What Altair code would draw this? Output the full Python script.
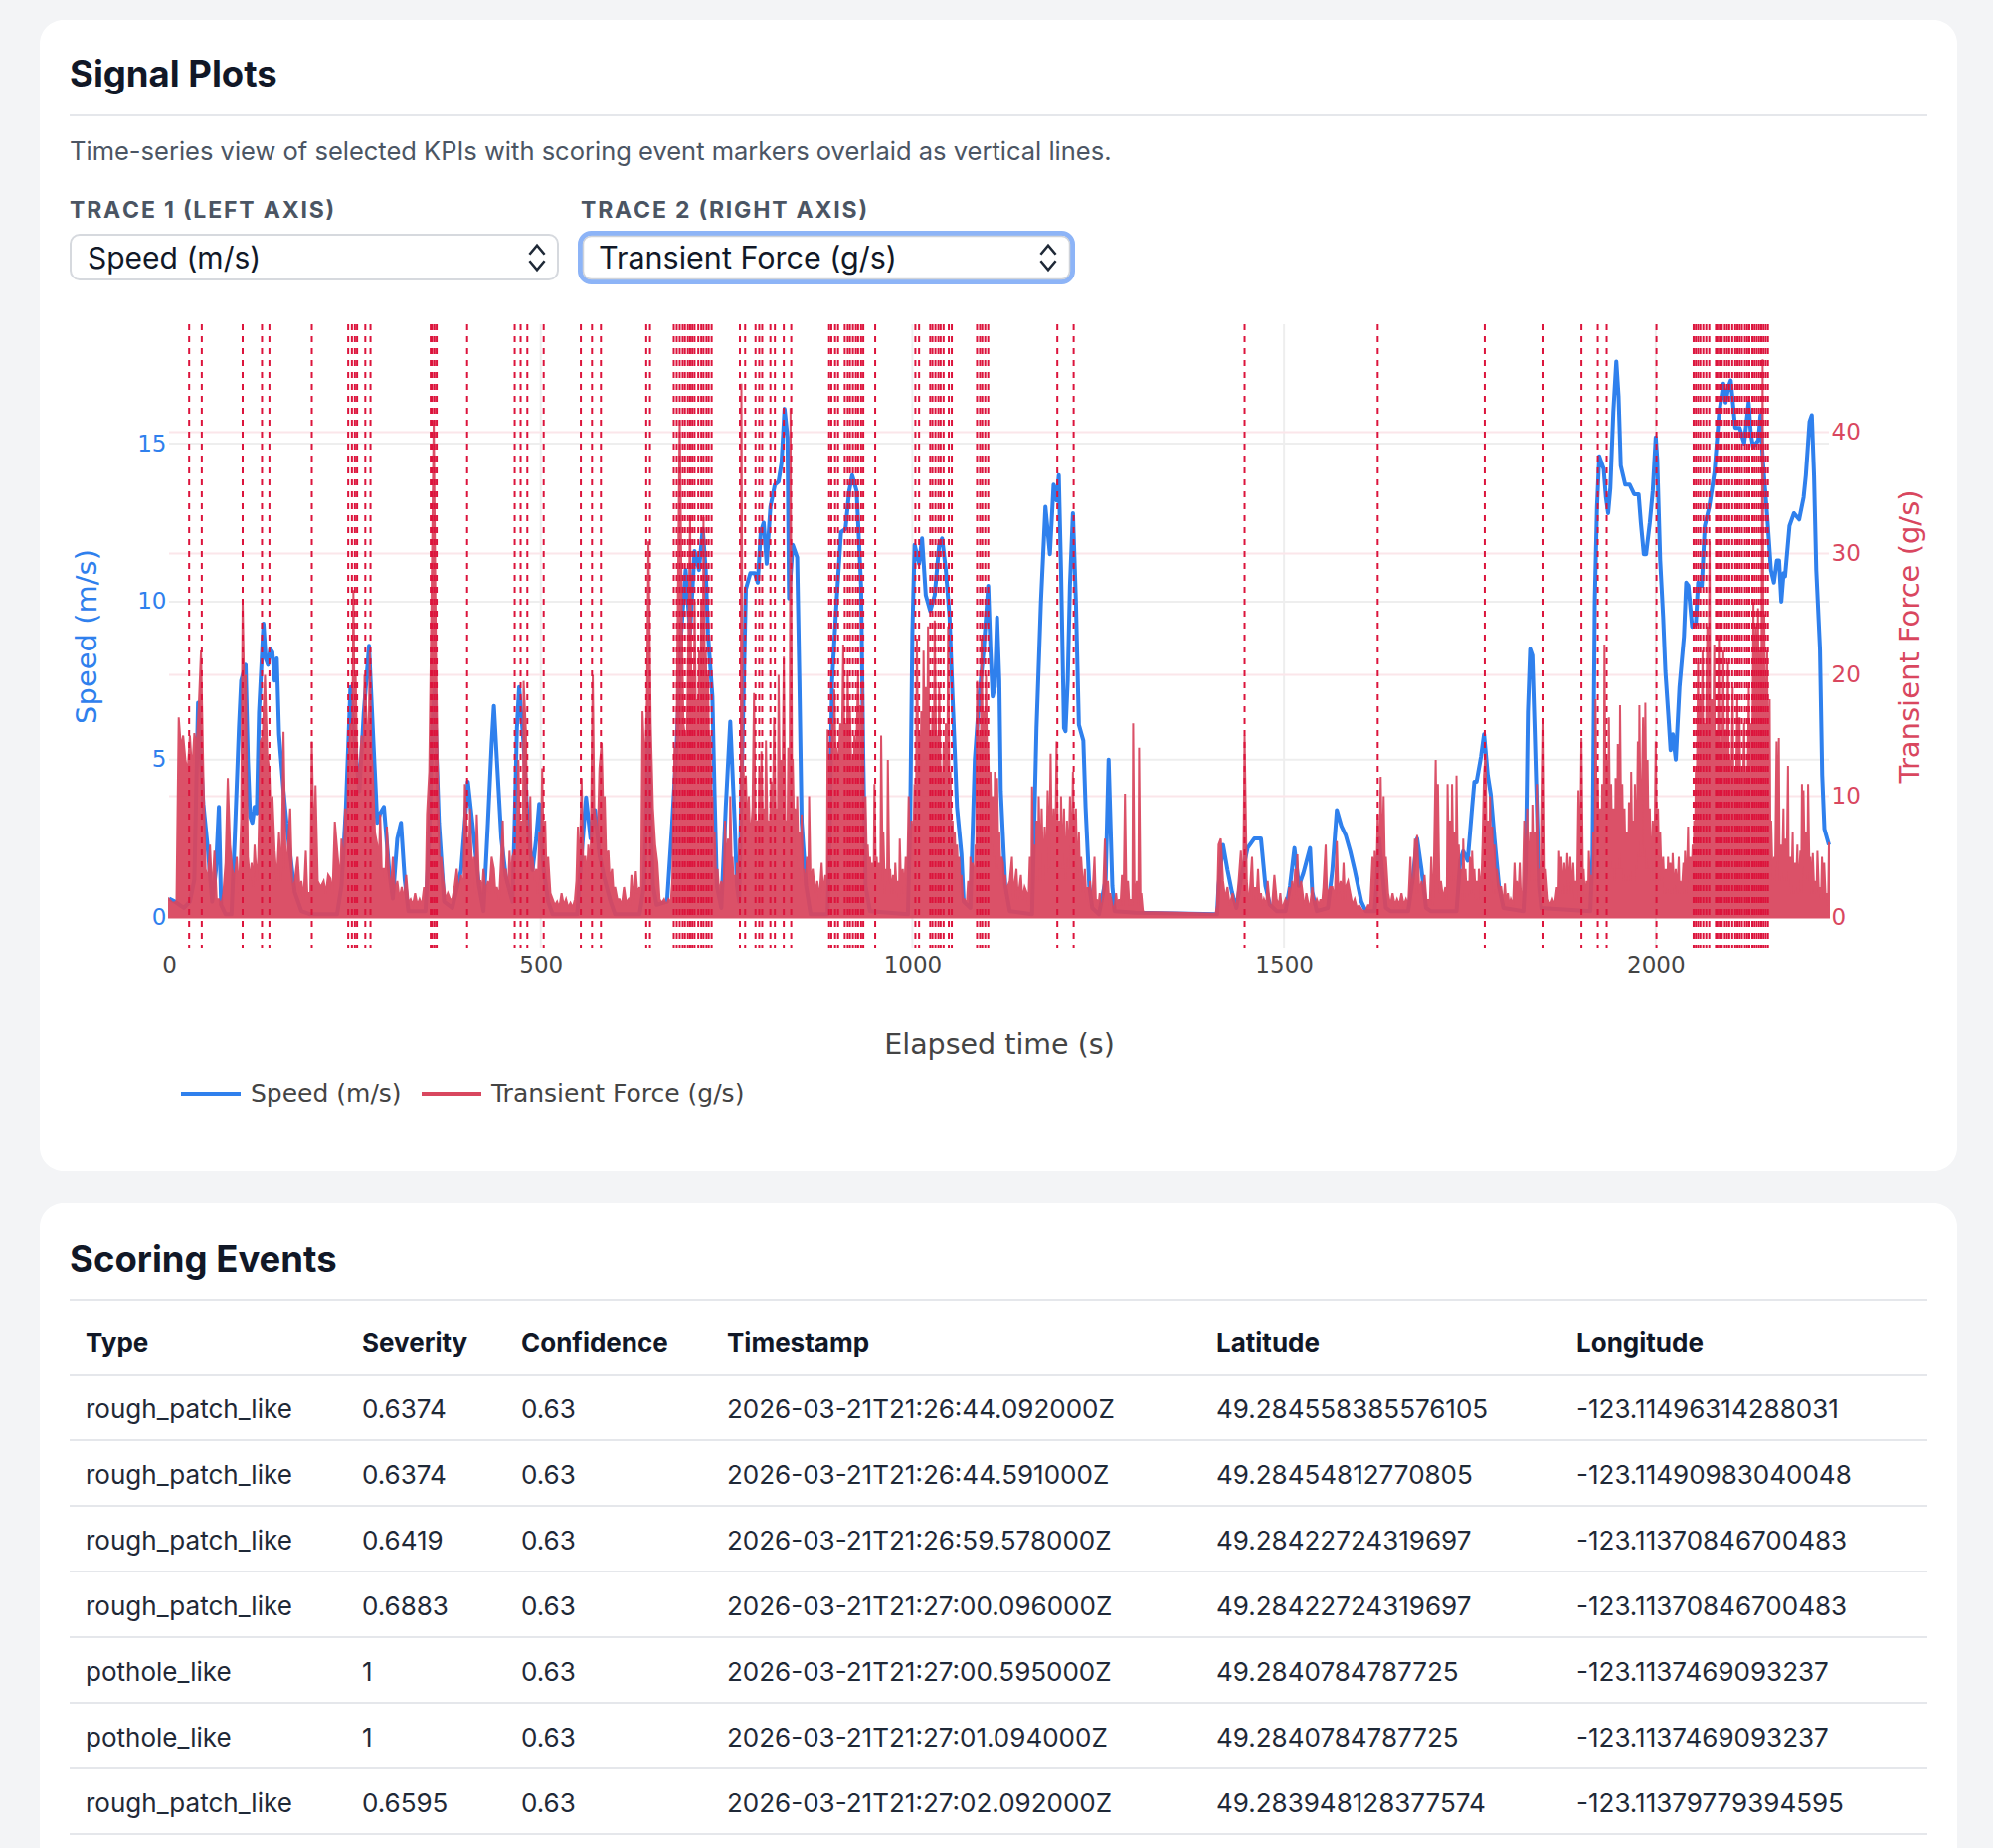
import altair as alt
import pandas as pd

# ---------------------------------------------------------------------------
# Speed trace: (elapsed time s, speed m/s)
# ---------------------------------------------------------------------------
SPEED = [
    (0, 0.6), (8, 0.5), (14, 0.4), (20, 0.3), (28, 0.5), (34, 1.2), (39, 6.8), (43, 5.0), (46, 3.6),
    (52, 2.2), (58, 0.5), (63, 1.5), (67, 3.5), (70, 0.4), (76, 0.1), (84, 0.1), (88, 2.3), (94, 6.0),
    (97, 7.5), (103, 8.0), (106, 5.0), (109, 3.2), (112, 3.0), (115, 3.5), (118, 3.3), (121, 6.5),
    (127, 9.3), (130, 8.2), (133, 8.0), (136, 8.5), (139, 8.4), (142, 7.5), (145, 8.2), (148, 5.8),
    (154, 4.0), (158, 3.0), (163, 2.0), (169, 0.8), (178, 0.2), (190, 0.1), (226, 0.1),
    (232, 1.0), (238, 3.5), (244, 7.3), (250, 5.5), (256, 4.0), (262, 6.5), (269, 8.6), (274, 6.0),
    (280, 3.0), (284, 3.3), (289, 3.5), (296, 1.5), (301, 0.6), (307, 2.5), (312, 3.0), (317, 1.2),
    (322, 0.2), (345, 0.2), (350, 2.5), (354, 6.0), (357, 7.2), (360, 5.0), (363, 3.0), (370, 0.5),
    (381, 0.3), (393, 1.5), (398, 3.0), (402, 4.3), (408, 3.0), (417, 1.0), (423, 0.2), (429, 3.0),
    (434, 5.5), (437, 6.7), (441, 5.0), (447, 2.5), (453, 1.3), (462, 0.5), (465, 3.0), (468, 6.0),
    (471, 7.3), (477, 5.5), (483, 2.8), (489, 1.5), (494, 2.5), (498, 3.6), (504, 1.5), (510, 0.5),
    (516, 0.1), (549, 0.1),
    (555, 2.0), (561, 3.8), (567, 2.5), (573, 3.4), (579, 2.0), (585, 1.3), (594, 0.5), (600, 0.1),
    (633, 0.1), (639, 1.0), (643, 4.0), (645, 6.5), (648, 3.0), (651, 1.0), (656, 0.4), (670, 0.5),
    (677, 3.0), (683, 5.5), (689, 9.0), (695, 11.0), (701, 9.0), (707, 11.6), (713, 11.0), (718, 12.3),
    (722, 11.0), (725, 9.0), (731, 7.0), (734, 3.8), (737, 1.0), (743, 0.3), (749, 3.5), (755, 6.2),
    (761, 3.0), (764, 1.0), (767, 0.5), (770, 4.0), (776, 10.4), (782, 10.9), (788, 10.9), (792, 10.6),
    (796, 12.2), (800, 12.5), (804, 11.2), (809, 13.0), (815, 13.7), (820, 13.8), (824, 14.4),
    (828, 16.1), (832, 15.2), (834, 10.1), (839, 11.8), (845, 11.4), (848, 7.5), (851, 3.0),
    (857, 1.0), (863, 0.1), (886, 0.1), (889, 3.0), (892, 7.5), (898, 10.0), (904, 12.2), (910, 12.3),
    (915, 13.5), (919, 14.0), (925, 13.5), (931, 10.5), (934, 5.0), (937, 1.0), (943, 0.2), (994, 0.1),
    (997, 3.0), (1000, 9.0), (1003, 11.8), (1009, 11.2), (1013, 12.0), (1018, 10.2), (1024, 9.7),
    (1030, 10.2), (1036, 11.8), (1040, 12.0), (1045, 11.0), (1050, 9.5), (1054, 7.0), (1060, 3.5),
    (1066, 2.0), (1069, 0.5), (1078, 0.3), (1084, 5.0), (1090, 7.0), (1096, 8.5), (1102, 10.5),
    (1105, 8.5), (1108, 7.0), (1111, 7.3), (1114, 9.5), (1117, 7.5), (1119, 4.0), (1125, 1.0),
    (1131, 0.2), (1161, 0.1), (1164, 3.0), (1167, 6.0), (1173, 10.0), (1179, 13.0), (1185, 11.5),
    (1190, 13.7), (1194, 13.2), (1197, 14.0), (1200, 11.0), (1204, 6.0), (1206, 5.9), (1209, 7.5),
    (1212, 10.5), (1216, 12.8), (1220, 10.0), (1224, 6.1), (1230, 5.6), (1233, 3.5), (1238, 1.0),
    (1242, 0.3), (1251, 0.1), (1260, 1.2), (1264, 5.0), (1269, 1.0), (1272, 0.2), (1300, 0.15),
    (1410, 0.1),
    (1412, 1.0), (1418, 2.3), (1424, 1.5), (1430, 0.8), (1436, 0.3), (1442, 1.2), (1451, 2.2),
    (1460, 2.5), (1469, 2.5), (1475, 1.0), (1481, 0.4), (1490, 0.2), (1502, 0.2), (1508, 1.0),
    (1514, 2.2), (1520, 1.0), (1526, 1.4), (1535, 2.2), (1538, 0.8), (1544, 0.2), (1559, 0.3),
    (1565, 1.5), (1571, 3.4), (1577, 2.9), (1583, 2.6), (1589, 2.1), (1595, 1.5), (1604, 0.5),
    (1610, 0.2), (1622, 0.2), (1625, 1.2), (1628, 2.5), (1631, 1.7), (1637, 0.3), (1643, 0.2),
    (1667, 0.2), (1673, 1.2), (1679, 2.5), (1685, 1.5), (1691, 0.3), (1697, 0.2), (1732, 0.2),
    (1737, 1.8), (1741, 2.1), (1747, 1.8), (1753, 3.5), (1756, 4.3), (1759, 4.3), (1765, 5.1),
    (1769, 5.8), (1774, 4.5), (1778, 3.9), (1783, 2.5), (1789, 1.0), (1795, 0.3), (1822, 0.2),
    (1825, 1.5), (1828, 6.5), (1831, 8.5), (1834, 8.3), (1837, 6.0), (1840, 3.5), (1843, 1.0),
    (1846, 0.3), (1912, 0.2),
    (1915, 2.0), (1918, 10.0), (1921, 13.0), (1924, 14.6), (1930, 14.2), (1933, 13.3), (1936, 12.8),
    (1939, 13.6), (1943, 16.0), (1947, 17.6), (1950, 16.5), (1953, 14.3), (1959, 13.7), (1965, 13.7),
    (1971, 13.4), (1977, 13.4), (1980, 12.5), (1984, 11.5), (1987, 11.5), (1992, 12.5), (1996, 13.5),
    (2000, 15.2), (2002, 14.5), (2006, 11.3), (2010, 9.5), (2013, 7.8), (2017, 6.4), (2020, 5.3),
    (2023, 5.8), (2027, 5.0), (2032, 7.3), (2038, 8.9), (2041, 10.6), (2044, 10.5), (2049, 9.2),
    (2054, 9.3), (2057, 10.6), (2062, 10.5), (2066, 12.4), (2072, 13.0), (2079, 14.1), (2085, 15.9),
    (2091, 16.9), (2094, 16.3), (2098, 16.8), (2101, 17.0), (2107, 15.5), (2113, 15.5), (2119, 15.0),
    (2125, 16.3), (2128, 15.3), (2131, 14.9), (2138, 15.1), (2141, 15.9), (2144, 14.5), (2150, 12.7),
    (2155, 11.0), (2159, 10.6), (2163, 11.3), (2166, 11.3), (2169, 10.0), (2172, 10.9), (2174, 10.8),
    (2180, 12.4), (2186, 12.8), (2193, 12.6), (2199, 13.3), (2202, 14.0), (2207, 15.7), (2210, 15.9),
    (2213, 14.0), (2216, 11.0), (2221, 8.5), (2224, 4.5), (2227, 2.8), (2233, 2.3),
]

# ---------------------------------------------------------------------------
# Transient force trace: (elapsed time s, force g/s)
# ---------------------------------------------------------------------------
FORCE_0_350 = [
    (0, 1.5), (5, 1.2), (10, 1.3), (13, 16.5), (16, 14), (19, 15), (22, 13), (25, 12), (28, 15),
    (31, 12), (34, 15.2), (37, 14), (40, 17.5), (43, 22), (46, 12), (49, 4), (52, 3), (55, 6),
    (58, 2), (61, 5.5), (64, 1.5), (67, 1.5), (70, 1), (73, 2), (76, 4.5), (79, 11.5), (82, 6),
    (85, 4), (88, 3), (91, 5), (94, 2), (97, 8), (99, 26), (101, 19), (103, 20), (106, 5), (109, 3),
    (111, 4.5), (113, 2.5), (115, 6), (118, 3), (120, 5), (123, 14.5), (126, 15), (129, 20),
    (132, 13.5), (135, 12), (137, 8), (139, 10), (142, 5.5), (145, 3), (148, 7), (151, 3),
    (154, 15.3), (157, 4), (159, 5), (163, 9), (166, 2), (169, 3), (173, 5), (176, 2), (178, 3),
    (181, 1.5), (184, 5.5), (186, 2), (188, 2), (190, 1.5), (192, 14.5), (195, 5), (197, 10.9),
    (200, 3), (204, 2.5), (208, 3), (211, 2), (214, 3.5), (217, 3.2), (220, 2), (223, 7.9), (227, 5),
    (230, 3), (232, 6.5), (235, 4), (237, 9), (239, 5), (241, 12.5), (244, 16), (246, 10), (248, 27),
    (250, 14), (251, 20), (254, 10), (256, 12), (259, 15), (261, 9), (263, 20), (266, 16), (268, 12),
    (270, 22), (272, 14), (274, 12), (277, 7), (280, 6), (282, 4), (284, 8.5), (286, 4), (289, 4),
    (291, 3), (293, 7.5), (296, 3.5), (298, 2), (301, 5), (304, 2), (307, 3), (310, 1.5), (313, 2.5),
    (316, 1.5), (319, 3.5), (322, 1.2), (325, 1.5), (328, 1), (331, 2), (334, 1), (337, 1.5),
    (340, 1), (343, 2.5), (345, 1.5), (347, 8.5),
]
FORCE_350_700 = [
    (350, 12), (353, 26), (356, 41), (359, 22), (362, 10), (364, 4), (366, 5), (369, 3), (372, 1.5),
    (375, 2), (378, 1.5), (381, 1.5), (384, 2.5), (387, 4), (390, 2), (393, 3.5), (396, 2), (398, 11),
    (401, 6.5), (403, 4), (405, 9), (408, 3), (410, 5), (412, 2), (414, 8.5), (417, 3), (419, 3),
    (421, 2), (423, 4), (426, 2), (429, 3), (431, 2), (434, 5), (437, 4), (439, 2), (441, 2.5),
    (444, 1.5), (446, 4), (449, 8), (451, 3), (453, 4), (456, 2), (458, 5.5), (460, 3), (462, 5),
    (465, 5.5), (467, 3), (470, 13), (472, 6), (474, 8), (476, 5), (477, 19.5), (480, 15.5), (482, 8),
    (484, 4), (486, 10), (488, 4), (489, 5), (492, 3), (494, 4), (496, 2), (498, 7), (500, 4),
    (502, 12.3), (504, 5), (506, 8), (508, 3), (510, 5), (513, 2), (516, 1.5), (519, 1), (522, 1.3),
    (525, 0.8), (528, 2), (531, 1), (534, 1.5), (537, 0.8), (540, 1.2), (543, 0.8), (546, 1.5),
    (548, 3), (550, 7.5), (552, 3), (555, 11.5), (557, 5), (560, 5), (562, 3), (564, 6), (567, 4),
    (570, 20), (572, 9), (574, 8), (576, 5), (579, 12.3), (582, 14.4), (584, 9), (586, 10), (588, 5),
    (591, 5.5), (593, 3), (596, 4), (598, 2), (600, 2.5), (603, 1.5), (606, 1.5), (609, 1),
    (612, 2.5), (615, 1.2), (618, 1.5), (620, 1), (622, 3.5), (625, 1.5), (628, 3.8), (630, 2),
    (633, 2.5), (635, 1.5), (637, 17), (640, 12), (643, 18), (645, 31), (648, 16), (651, 9), (654, 6),
    (657, 4.5), (660, 1.5), (663, 1.2), (666, 1.5), (669, 1), (672, 1.5), (675, 1.2), (677, 3),
    (680, 14), (682, 9), (684, 23), (687, 41), (690, 24), (692, 16), (694, 15), (696, 12), (698, 20),
]
FORCE_700_1100 = [
    (701, 33), (703, 16), (704, 20), (706, 14), (707, 26), (709, 15), (710, 18), (712, 14), (713, 22),
    (715, 15), (716, 26), (718, 17), (719, 33), (721, 18), (722, 22), (724, 16), (725, 20), (727, 12),
    (728, 15), (730, 9), (731, 10), (733, 5), (734, 7), (736, 3), (738, 4), (740, 2), (743, 3),
    (746, 2), (748, 8), (750, 4), (752, 6.5), (754, 3), (755, 10), (757, 4), (758, 5), (760, 2),
    (761, 3.5), (763, 2), (764, 4.5), (766, 3), (767, 6.5), (769, 4), (770, 44), (772, 8), (773, 12),
    (775, 7), (776, 11.7), (778, 7), (780, 10), (782, 6), (783, 7), (785, 9), (787, 18.5), (789, 7),
    (791, 8), (793, 6), (794, 12), (796, 8), (797, 13.7), (799, 7), (800, 9), (802, 7), (803, 14.6),
    (805, 7), (806, 8), (808, 6), (810, 11.2), (812, 7), (814, 16.5), (816, 8), (817, 9), (819, 7),
    (820, 20), (822, 9), (823, 13), (825, 9), (827, 21.5), (829, 7), (830, 8), (832, 7), (833, 14),
    (835, 12), (836, 42), (838, 13), (839, 13), (841, 7), (842, 9), (844, 5), (845, 10), (847, 4),
    (848, 7), (850, 3), (851, 8.5), (853, 3), (854, 4), (856, 2), (858, 5), (860, 3), (861, 10),
    (863, 3), (866, 4), (869, 2), (872, 3), (875, 1.5), (878, 4.5), (880, 2), (883, 3.5), (885, 2),
    (886, 15.5), (888, 11), (889, 13), (891, 11), (892, 16), (894, 12), (895, 18.8), (897, 12),
    (898, 14), (900, 12), (903, 16), (905, 13), (907, 22.5), (909, 12), (910, 16), (912, 12),
    (913, 20), (915, 12), (916, 17), (918, 12), (919, 13), (921, 11), (922, 15), (924, 12), (927, 20),
    (929, 12), (930, 17.5), (932, 11), (933, 19.5), (935, 7), (937, 10), (939, 4), (940, 6), (942, 3),
    (943, 5), (945, 2.5), (946, 4.5), (948, 3), (949, 11), (951, 3), (952, 5), (954, 2), (955, 4.5),
    (957, 3), (958, 15), (960, 4), (961, 7), (963, 2), (964, 4), (966, 3), (967, 13), (969, 3),
    (970, 4), (972, 2), (974, 3.5), (976, 2), (977, 4.5), (979, 2), (981, 3), (982, 1.5), (983, 6.5),
    (985, 2), (987, 4), (989, 2), (991, 5), (993, 3), (995, 10), (997, 4), (999, 8), (1001, 5),
    (1003, 11), (1005, 9), (1006, 23), (1008, 12), (1009, 15), (1011, 12), (1012, 17), (1014, 13),
    (1015, 22), (1017, 12), (1018, 19), (1020, 13), (1021, 24), (1023, 13), (1024, 15), (1026, 12),
    (1027, 17), (1029, 13), (1030, 24.5), (1032, 13), (1033, 15), (1035, 12), (1036, 19), (1038, 11),
    (1039, 12), (1041, 10), (1042, 14), (1044, 10), (1045, 16), (1047, 11), (1048, 24), (1050, 8),
    (1051, 12), (1053, 5), (1054, 8), (1056, 4), (1057, 7), (1059, 3), (1060, 6), (1062, 3), (1063, 5),
    (1065, 2), (1066, 3.5), (1068, 1.5), (1070, 1.5), (1073, 1), (1075, 3), (1077, 1.5), (1078, 5),
    (1080, 2), (1081, 4.5), (1083, 2.5), (1085, 6), (1086, 5), (1087, 19.5), (1089, 12), (1090, 15),
    (1092, 12), (1093, 23), (1095, 13), (1096, 17), (1098, 13), (1099, 20),
]
FORCE_1100_1600 = [
    (1101, 11), (1102, 14), (1104, 8), (1105, 12), (1107, 6), (1108, 10), (1110, 5), (1111, 12),
    (1113, 4), (1114, 11.5), (1116, 4), (1117, 7), (1119, 3), (1120, 5), (1122, 4.5), (1124, 2),
    (1125, 3.5), (1127, 1.5), (1128, 2.5), (1131, 3), (1134, 5), (1136, 1.5), (1137, 2.5), (1140, 4),
    (1142, 1.5), (1143, 2), (1146, 3.5), (1148, 1.5), (1151, 2.5), (1154, 2), (1156, 1), (1158, 5),
    (1160, 2), (1161, 10.8), (1163, 3), (1164, 6), (1166, 3), (1167, 8), (1169, 3), (1170, 10),
    (1172, 4), (1174, 9), (1176, 3), (1178, 7.5), (1180, 3), (1182, 10.5), (1184, 4), (1186, 13.5),
    (1188, 4), (1190, 9), (1192, 4), (1194, 14.5), (1196, 4), (1197, 8), (1199, 4), (1200, 10),
    (1202, 4), (1204, 9), (1206, 3), (1208, 8), (1210, 4), (1212, 10), (1214, 4), (1216, 12),
    (1218, 4), (1220, 9), (1222, 3), (1224, 7), (1226, 2), (1227, 5), (1230, 2), (1232, 4),
    (1234, 1.5), (1236, 2.5), (1238, 1), (1239, 3), (1241, 1), (1242, 1.5), (1245, 5), (1247, 1),
    (1248, 1.5), (1250, 0.8), (1252, 2), (1254, 0.8), (1256, 1), (1259, 6.5), (1261, 1.5), (1263, 3),
    (1265, 1), (1266, 2), (1269, 1), (1272, 0.8), (1274, 2), (1276, 0.8), (1278, 1.5), (1280, 1),
    (1282, 3.5), (1284, 1), (1286, 10.2), (1288, 1.5), (1290, 3), (1292, 1), (1294, 1.5), (1296, 1),
    (1297, 16), (1299, 1.5), (1302, 3), (1304, 1), (1305, 14), (1307, 1), (1308, 2), (1310, 0.6),
    (1311, 0.45), (1360, 0.4), (1408, 0.3),
    (1410, 1), (1412, 6), (1415, 6.5), (1418, 3), (1421, 1.5), (1424, 2.5), (1427, 1), (1431, 2),
    (1434, 1), (1436, 1), (1439, 3), (1442, 5.5), (1445, 1.5), (1447, 15), (1450, 3), (1452, 1.5),
    (1454, 2), (1457, 5), (1459, 1.5), (1461, 2.5), (1463, 1.5), (1465, 4), (1467, 1.5), (1469, 2),
    (1471, 1), (1473, 1.5), (1476, 1), (1478, 3), (1481, 1), (1484, 1), (1487, 3.5), (1490, 1.5),
    (1493, 1), (1495, 2), (1497, 0.8), (1499, 1), (1502, 1.5), (1505, 1), (1507, 2.5), (1509, 1.5),
    (1511, 3), (1513, 1.5), (1515, 4), (1517, 3.5), (1518, 5.2), (1520, 1.5), (1523, 3), (1526, 1.5),
    (1528, 1), (1530, 2), (1533, 1), (1535, 1), (1538, 2.5), (1541, 1), (1544, 1.5), (1547, 1),
    (1549, 1.5), (1551, 1), (1553, 2.5), (1556, 6), (1558, 1.5), (1559, 2), (1562, 2.5), (1565, 2.5),
    (1568, 1.5), (1571, 6.3), (1573, 2), (1576, 3), (1578, 1.5), (1580, 4.5), (1582, 1.5),
    (1583, 2.5), (1586, 3), (1589, 2), (1592, 1), (1595, 1.5), (1598, 0.8),
]
FORCE_1600_2233 = [
    (1601, 1), (1605, 0.6), (1610, 0.5), (1613, 1), (1616, 1), (1619, 5), (1621, 2), (1622, 5.5),
    (1624, 2), (1626, 8.5), (1628, 3), (1630, 11.6), (1632, 4), (1634, 10), (1636, 3), (1637, 5),
    (1640, 2), (1643, 1), (1646, 2), (1649, 1), (1652, 1.5), (1655, 1), (1658, 2), (1661, 1),
    (1664, 1.5), (1667, 1), (1670, 5), (1672, 1.5), (1673, 2), (1676, 6.5), (1678, 2), (1679, 6.8),
    (1682, 2), (1685, 3), (1687, 1.5), (1689, 3.5), (1692, 1), (1694, 1.5), (1696, 1), (1698, 5),
    (1700, 1), (1701, 2), (1704, 13), (1706, 3), (1707, 11), (1709, 2), (1711, 3), (1714, 1.5),
    (1717, 2.5), (1719, 1.5), (1720, 11), (1722, 3), (1723, 8), (1725, 3), (1726, 11), (1728, 3),
    (1729, 7), (1731, 3), (1732, 11.7), (1734, 2.5), (1735, 6), (1737, 2), (1738, 4), (1740, 1.5),
    (1741, 6.5), (1743, 2), (1744, 4), (1746, 1.5), (1747, 3), (1749, 2), (1750, 5), (1752, 2),
    (1753, 5.5), (1755, 2), (1756, 4), (1758, 1.5), (1759, 3), (1761, 1.5), (1762, 4), (1765, 2),
    (1767, 6), (1769, 11.7), (1771, 13.5), (1773, 3), (1774, 8), (1776, 3), (1777, 10), (1779, 3),
    (1780, 7.5), (1782, 2), (1783, 6), (1785, 2), (1786, 4), (1789, 2.5), (1792, 2.5), (1795, 1),
    (1797, 2.8), (1799, 1), (1801, 2), (1803, 1), (1805, 1.5), (1808, 1), (1810, 4.5), (1812, 1.5),
    (1813, 3), (1815, 1.5), (1817, 4.5), (1819, 1), (1821, 2), (1823, 8), (1825, 2), (1827, 9),
    (1829, 3), (1831, 7), (1833, 3), (1834, 9.3), (1836, 3), (1837, 7), (1839, 3), (1840, 11),
    (1842, 2), (1843, 4), (1846, 2.5), (1849, 16), (1851, 2), (1852, 4), (1855, 1.5), (1858, 1),
    (1861, 1.5), (1864, 1), (1867, 2.5), (1869, 1.5), (1870, 5.5), (1872, 2), (1873, 5), (1875, 2),
    (1877, 4.5), (1879, 2), (1881, 5.3), (1883, 2), (1885, 5), (1887, 2), (1889, 4.5), (1891, 1.5),
    (1892, 3), (1894, 1.5), (1896, 10.5), (1898, 3), (1900, 14.8), (1902, 3), (1903, 4), (1905, 1.5),
    (1907, 3), (1909, 1.5), (1910, 5.5), (1912, 2), (1913, 3.5), (1915, 2), (1916, 7), (1918, 4),
    (1919, 18), (1921, 5), (1922, 11.5), (1924, 4), (1925, 9), (1927, 4), (1928, 11), (1930, 5),
    (1931, 22.5), (1933, 5), (1934, 13), (1936, 4), (1937, 16.5), (1939, 4), (1940, 11), (1942, 4),
    (1943, 9), (1945, 3), (1946, 11.5), (1948, 4), (1949, 14.3), (1951, 4), (1952, 17.5), (1954, 4),
    (1955, 11), (1957, 3), (1958, 9), (1960, 3), (1961, 7), (1963, 3), (1964, 9.5), (1966, 3),
    (1967, 12), (1969, 3), (1970, 8), (1971, 3), (1972, 11), (1974, 4), (1976, 14.5), (1977, 5),
    (1978, 17.5), (1980, 5), (1983, 16.5), (1985, 5), (1986, 17.7), (1988, 4), (1989, 13), (1991, 4),
    (1992, 9), (1994, 3), (1996, 8), (1998, 3), (2000, 14.5), (2002, 3), (2003, 9), (2005, 3),
    (2006, 7), (2008, 3), (2010, 5), (2012, 2), (2013.5, 4), (2015.5, 2), (2016.6, 5), (2018.6, 2),
    (2019.7, 4.5), (2021.7, 2), (2022.8, 5.3), (2024.9, 2), (2026.9, 4), (2029, 2), (2031, 5),
    (2032, 2), (2033, 3), (2035, 2), (2037.3, 4.5), (2038.3, 2), (2039.4, 5.5), (2041.4, 2),
    (2043.5, 7.5), (2044.5, 3), (2046.6, 5), (2047.6, 2), (2049.7, 6), (2050.7, 3), (2051.8, 8),
    (2052.8, 5), (2053.9, 12), (2054.9, 8), (2057, 21), (2058, 11), (2060, 18), (2061, 11), (2063, 22),
    (2064, 12), (2066, 16), (2067, 11), (2069.4, 24), (2070.4, 12), (2072.5, 31), (2073.5, 12),
    (2075.6, 18), (2076.6, 11), (2078.7, 22.5), (2079.7, 11), (2081.8, 15), (2082.8, 10), (2085, 23),
    (2086, 11), (2088, 14), (2089, 10), (2091, 22), (2092, 11), (2094, 15.5), (2095, 10),
    (2097.3, 21), (2098.4, 11), (2100.5, 13), (2101.5, 10), (2103.6, 19), (2104.6, 10),
    (2106.7, 12), (2107.7, 9), (2109.8, 18), (2110.8, 10), (2112.9, 16.5), (2113.9, 10), (2116, 12),
    (2117, 9), (2119, 16), (2120, 10), (2122.2, 12), (2123.2, 9), (2125.3, 19), (2126.3, 11),
    (2128.4, 16), (2129.5, 11), (2131.5, 26), (2132.6, 13), (2134.6, 24), (2135.7, 13),
    (2137.7, 25.5), (2138.8, 13), (2140.8, 22), (2141.9, 14), (2143.9, 46), (2145, 15), (2146, 25),
    (2148, 12), (2150, 22), (2151.2, 8), (2153.3, 18), (2154.3, 5), (2155.3, 8), (2157.4, 3),
    (2159.5, 5), (2160.5, 3), (2162.6, 14.5), (2163.6, 4), (2165.7, 14.8), (2166.7, 3), (2168.8, 6),
    (2169.8, 3), (2171.9, 9), (2172.9, 3), (2175, 6.5), (2176, 3), (2178, 12.5), (2179, 3),
    (2181.2, 5), (2182.3, 2), (2184.3, 7), (2185.4, 2), (2187.4, 4.5), (2188.5, 2), (2190.6, 6),
    (2191.6, 2), (2194.7, 5.5), (2195.7, 2), (2196.8, 11), (2197.8, 4), (2198.8, 10.5), (2200.9, 3),
    (2202, 7), (2204, 3), (2205, 11), (2207, 3), (2208, 5), (2210, 2), (2211.3, 5.3), (2213.3, 2),
    (2214.3, 3), (2216.4, 2), (2217.5, 5.5), (2219.5, 2), (2220.5, 2.5), (2222.5, 1.5), (2223.7, 5),
    (2225.7, 2), (2226.7, 4.5), (2228.7, 1.5), (2229.8, 2), (2232, 1), (2233, 6.2),
]

# ---------------------------------------------------------------------------
# Scoring event markers (elapsed time s)
# ---------------------------------------------------------------------------
EVENT_TIMES = [
    27, 44, 99, 125, 135, 192, 241, 246, 250, 253, 264, 271, 352, 354, 357, 360, 401, 465, 473, 482,
    504, 554, 569, 581, 642, 647, 679, 683, 687, 691, 694, 698, 701, 704, 707, 712, 716, 719, 723,
    726, 730, 768, 775, 789, 794, 798, 809, 815, 827, 837, 888, 891, 896, 900, 909, 913, 916, 920,
    924, 927, 931, 934, 950, 1004, 1009, 1024, 1027, 1031, 1035, 1038, 1042, 1049, 1053, 1087, 1091,
    1094, 1098, 1102, 1195, 1217, 1447, 1626, 1770, 1849, 1900, 1922, 1934, 2001, 2051, 2054, 2057,
    2060, 2064, 2068, 2072, 2081, 2083, 2086, 2089, 2093, 2096, 2099, 2103, 2107, 2110, 2113, 2116,
    2120, 2123, 2126, 2130, 2133, 2136, 2139, 2142, 2145, 2148, 2151,
]

TIME_TICKS = [0, 500, 1000, 1500, 2000]
SPEED_TICKS = [0, 5, 10, 15]
FORCE_TICKS = [0, 10, 20, 30, 40]
SERIES = ["Speed (m/s)", "Transient Force (g/s)"]

# ---------------------------------------------------------------------------
# Scoring events table
# ---------------------------------------------------------------------------
HEADERS = ["Type", "Severity", "Confidence", "Timestamp", "Latitude", "Longitude"]
EV_TYPE = ["rough_patch_like", "rough_patch_like", "rough_patch_like", "rough_patch_like",
           "pothole_like", "pothole_like", "rough_patch_like"]
EV_SEVERITY = ["0.6374", "0.6374", "0.6419", "0.6883", "1", "1", "0.6595"]
EV_CONFIDENCE = ["0.63", "0.63", "0.63", "0.63", "0.63", "0.63", "0.63"]
EV_TIMESTAMP = ["2026-03-21T21:26:44.092000Z", "2026-03-21T21:26:44.591000Z",
                "2026-03-21T21:26:59.578000Z", "2026-03-21T21:27:00.096000Z",
                "2026-03-21T21:27:00.595000Z", "2026-03-21T21:27:01.094000Z",
                "2026-03-21T21:27:02.092000Z"]
EV_LAT = ["49.284558385576105", "49.28454812770805", "49.28422724319697", "49.28422724319697",
          "49.2840784787725", "49.2840784787725", "49.283948128377574"]
EV_LON = ["-123.11496314288031", "-123.11490983040048", "-123.11370846700483",
          "-123.11370846700483", "-123.1137469093237", "-123.1137469093237",
          "-123.11379779394595"]

# ---------------------------------------------------------------------------
# Styling / layout
# ---------------------------------------------------------------------------
W, H = 1669, 627          # plot area
TABLE_H = 462             # seven table rows
BLUE = "#2f80ed"
RED = "#d9475f"
MARKER = "#dc143c"
INK = "#111827"
MUTED = "#4b5563"
LINE = "#e5e7eb"
PLOT_TEXT = "#444444"
UI_FONT = "Inter"
PLOT_FONT = "DejaVu Sans"
CHEVRON = "M-0.38,-0.16 L0,-0.62 L0.38,-0.16 M-0.38,0.16 L0,0.62 L0.38,0.16"
HAIR = "\u200a"

one = pd.DataFrame({"k": [0]})


def tracked(txt):
    """Uppercase label with a little tracking between letters."""
    return HAIR.join(txt)


def box(x1, x2, y1, y2, **style):
    return alt.Chart(one).mark_rect(**style).encode(
        x=alt.value(x1), x2=alt.value(x2), y=alt.value(y1), y2=alt.value(y2))


def label(txt, x, y, **style):
    style.setdefault("font", UI_FONT)
    return alt.Chart(one).mark_text(text=txt, align="left", baseline="middle", **style).encode(
        x=alt.value(x), y=alt.value(y))


def hline(x1, x2, y, color=LINE, width=2):
    return alt.Chart(one).mark_rule(color=color, strokeWidth=width).encode(
        x=alt.value(x1), x2=alt.value(x2), y=alt.value(y))


def chevron(x, y):
    return alt.Chart(one).mark_point(shape=CHEVRON, size=1600, filled=False, stroke="#1f2937",
                                     strokeWidth=2.5, opacity=1).encode(
        x=alt.value(x), y=alt.value(y))


speed_df = pd.DataFrame(SPEED, columns=["t", "v"]).assign(series=SERIES[0])
force_df = pd.DataFrame(FORCE_0_350 + FORCE_350_700 + FORCE_700_1100 + FORCE_1100_1600
                        + FORCE_1600_2233, columns=["t", "v"])

x_scale = alt.Scale(domain=[0, 2233], nice=False, zero=False)
speed_scale = alt.Scale(domain=[-0.96, 18.78], nice=False, zero=False)
force_scale = alt.Scale(domain=[-2.5, 48.9], nice=False, zero=False)

x_axis = alt.Axis(values=TIME_TICKS, title="Elapsed time (s)", grid=False, domain=False, ticks=False,
                  labelFont=PLOT_FONT, labelFontSize=23, labelColor=PLOT_TEXT, labelPadding=6,
                  labelFlush=False, labelOverlap=False, format="d",
                  titleFont=PLOT_FONT, titleFontSize=28.5, titleFontWeight="normal",
                  titleColor=PLOT_TEXT, titleX=W / 2, titleY=97.5, titleAlign="center",
                  titleBaseline="middle", zindex=1)
speed_axis = alt.Axis(orient="left", values=SPEED_TICKS, title="Speed (m/s)", grid=False,
                      domain=False, ticks=False, labelFont=PLOT_FONT, labelFontSize=23,
                      labelColor=BLUE, labelPadding=3, labelOverlap=False, labelFlush=False,
                      titleFont=PLOT_FONT, titleFontSize=29, titleFontWeight="normal",
                      titleColor=BLUE, titleX=-83, titleY=H / 2, titleAngle=270,
                      titleAlign="center", titleBaseline="middle", zindex=1)
force_axis = alt.Axis(orient="right", values=FORCE_TICKS, title="Transient Force (g/s)", grid=False,
                      domain=False, ticks=False, labelFont=PLOT_FONT, labelFontSize=23,
                      labelColor=RED, labelPadding=2, labelOverlap=False, labelFlush=False,
                      titleFont=PLOT_FONT, titleFontSize=29, titleFontWeight="normal",
                      titleColor=RED, titleX=81, titleY=H / 2, titleAngle=270,
                      titleAlign="center", titleBaseline="middle", zindex=1)
legend = alt.Legend(orient="none", legendX=10, legendY=742, direction="horizontal", title=None,
                    symbolType="stroke", symbolStrokeWidth=4, symbolSize=3600,
                    labelFont=PLOT_FONT, labelFontSize=25, labelColor=PLOT_TEXT, labelOffset=8,
                    labelLimit=600, columnPadding=12)

# --- Signal Plots card -----------------------------------------------------
card_a = box(-130, 1798, -306, 851, fill="white", cornerRadius=24)
title_a = label("Signal Plots", -100, -250, fontSize=36.5, fontWeight="bold", color=INK)
rule_a = hline(-100, 1768, -210)
subtitle = label("Time-series view of selected KPIs with scoring event markers overlaid as vertical lines.",
                 -100, -173, fontSize=25.5, color=MUTED)
lab1 = label(tracked("TRACE 1 (LEFT AXIS)"), -100, -114, fontSize=23, fontWeight="bold", color=MUTED)
lab2 = label(tracked("TRACE 2 (RIGHT AXIS)"), 414, -114, fontSize=23, fontWeight="bold", color=MUTED)
sel1 = box(-99, 391, -90, -45, fill="white", stroke="#d6d9de", strokeWidth=2, cornerRadius=9)
sel2_ring = box(413.5, 908.5, -91.5, -42.5, fill="white", stroke="#8db4f7", strokeWidth=5,
                cornerRadius=11)
sel2 = box(416.5, 905.5, -88.5, -45.5, fill="white", stroke="#cfd3da", strokeWidth=1.5,
           cornerRadius=8)
sel1_text = label("Speed (m/s)", -82, -65.5, fontSize=30, color=INK)
sel2_text = label("Transient Force (g/s)", 432, -65.5, fontSize=30.5, color=INK)

x_grid = alt.Chart(pd.DataFrame({"t": TIME_TICKS[1:]})).mark_rule(
    color="#eeeeee", strokeWidth=2).encode(x=alt.X("t:Q", scale=x_scale, axis=x_axis))
force_grid = alt.Chart(pd.DataFrame({"v": FORCE_TICKS[1:]})).mark_rule(
    color="#fbe6ea", strokeWidth=2).encode(y=alt.Y("v:Q", scale=force_scale, axis=None))
speed_grid = alt.Chart(pd.DataFrame({"v": SPEED_TICKS[1:]})).mark_rule(
    color="#eeeeee", strokeWidth=2).encode(y=alt.Y("v:Q", scale=speed_scale, axis=speed_axis))

speed_line = alt.Chart(speed_df).mark_line(strokeWidth=4, strokeJoin="round").encode(
    x=alt.X("t:Q", scale=x_scale, axis=x_axis),
    y=alt.Y("v:Q", scale=speed_scale, axis=speed_axis),
    color=alt.Color("series:N", scale=alt.Scale(domain=SERIES, range=[BLUE, RED]), legend=legend),
)
speed_layer = alt.layer(speed_grid, speed_line)

force_area = alt.Chart(force_df).mark_area(color=RED, opacity=0.94, stroke=RED,
                                           strokeWidth=2).encode(
    x=alt.X("t:Q", scale=x_scale, axis=x_axis),
    y=alt.Y("v:Q", scale=force_scale, axis=force_axis),
    y2=alt.datum(0),
)

events = alt.Chart(pd.DataFrame({"t": EVENT_TIMES})).mark_rule(
    color=MARKER, strokeWidth=2, strokeDash=[6, 6]).encode(
    x=alt.X("t:Q", scale=x_scale, axis=x_axis))

signal_card = alt.layer(
    card_a, title_a, rule_a, subtitle, lab1, lab2,
    sel1, sel2_ring, sel2, sel1_text, sel2_text, chevron(370, -67), chevron(884, -67),
    x_grid, force_grid, speed_layer, force_area, events,
).resolve_scale(y="independent").properties(width=W, height=H)

# --- Scoring Events card ---------------------------------------------------
table_df = pd.DataFrame({
    "row": list(range(len(EV_TYPE))),
    "type": EV_TYPE, "severity": EV_SEVERITY, "confidence": EV_CONFIDENCE,
    "timestamp": EV_TIMESTAMP, "latitude": EV_LAT, "longitude": EV_LON,
})
FIELDS = ["type", "severity", "confidence", "timestamp", "latitude", "longitude"]
COL_X = [-84, 194, 354, 561, 1053, 1415]
row_scale = alt.Scale(domain=list(range(len(EV_TYPE))), paddingInner=0, paddingOuter=0)

card_b = box(-130, 1798, -172, 476, fill="white", cornerRadiusTopLeft=24, cornerRadiusTopRight=24)
title_b = label("Scoring Events", -100, -114.5, fontSize=36.5, fontWeight="bold", color=INK)
rule_b = hline(-100, 1768, -75)
head_cells = [label(h, x, -31.5, fontSize=26, fontWeight="bold", color=INK)
              for h, x in zip(HEADERS, COL_X)]
head_rule = hline(-100, 1768, 0)
row_rules = alt.Chart(table_df).mark_rule(color=LINE, strokeWidth=2).encode(
    x=alt.value(-100), x2=alt.value(1768),
    y=alt.Y("row:O", scale=row_scale, axis=None, bandPosition=1))
cells = [
    alt.Chart(table_df).mark_text(align="left", baseline="middle", font=UI_FONT, fontSize=26,
                                  color="#1f2937", dy=2.5).encode(
        x=alt.value(x), y=alt.Y("row:O", scale=row_scale, axis=None), text=f"{f}:N")
    for f, x in zip(FIELDS, COL_X)
]
table_card = alt.layer(card_b, title_b, rule_b, *head_cells, head_rule, row_rules, *cells).properties(
    width=W, height=TABLE_H)

chart = alt.vconcat(signal_card, table_card, spacing=33).properties(
    padding={"left": 40, "top": 20, "right": 36, "bottom": 0},
    background="#f3f4f6",
).configure_view(strokeWidth=0)

chart.save("out.html", embed_options={"renderer": "svg", "actions": False})
